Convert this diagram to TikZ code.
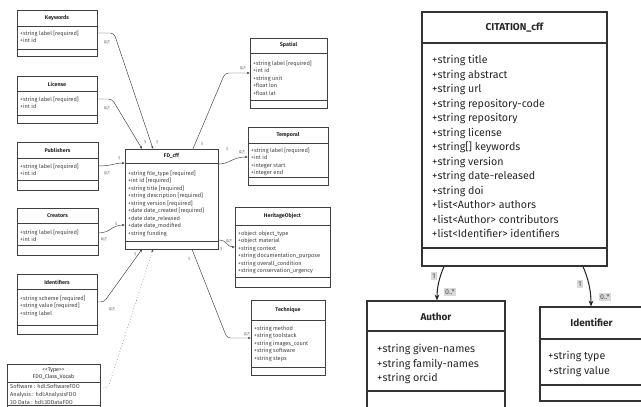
\documentclass[tikz,border=0pt]{standalone}
\usepackage{fontspec}
\setmainfont{Fira Sans}
\usetikzlibrary{positioning, arrows.meta, fit}

\begin{document}
\begin{tikzpicture}[x=0.03cm, y=-0.03cm,
        cls/.style={draw=black!75, line width=0.4pt, inner sep=0pt},
        bigcls/.style={draw=black!80, line width=0.9pt, inner sep=0pt},
        ttl/.style={font=\fontsize{4.6}{5.4}\selectfont\bfseries, text=black!85, inner sep=0pt, align=center},
        att/.style={font=\fontsize{4.8}{6.4}\selectfont, align=left, anchor=north west, inner sep=0pt, text=black!75},
        bigttl/.style={font=\fontsize{8.5}{10}\selectfont\bfseries, inner sep=0pt, text=black!85},
        bigatt/.style={font=\fontsize{9.1}{12.38}\selectfont, align=left, anchor=north west, inner sep=0pt, text=black!85},
        link/.style={draw=black!75, line width=0.4pt, -{Stealth[length=2.5pt, width=2pt]}, rounded corners=3pt},
        biglink/.style={draw=black!85, line width=0.9pt, -{Stealth[length=5pt, width=4pt]}},
        mult/.style={font=\fontsize{3.4}{4}\selectfont, text=black!60, inner sep=0.5pt, fill=black!7},
        bigmult/.style={font=\fontsize{6}{7}\selectfont, text=black!70, inner sep=1pt, fill=black!15}
    ]
        \useasboundingbox (0,0) rectangle (641,406);
        \clip (0,0) rectangle (641,406);

        % Left diagram: classes around FD_cff
        \node[cls, fit={(17,10) (97,56)}] (kw) {};
        \draw[black!75, line width=0.4pt] (kw.west |- 0,26) -- (kw.east |- 0,26) (kw.west |- 0,49) -- (kw.east |- 0,49);
        \node[ttl] (kwt) at (kw.north |- 0,18) {Keywords};
        \node[att] (kwa) at (20,30.5) {+string label [required]\\+int id};

        \node[cls, fit={(17,76) (97,123)}] (lic) {};
        \draw[black!75, line width=0.4pt] (lic.west |- 0,91) -- (lic.east |- 0,91) (lic.west |- 0,115) -- (lic.east |- 0,115);
        \node[ttl] (lict) at (lic.north |- 0,84) {License};
        \node[att] (lica) at (20,96.5) {+string label [required]\\+int id};

        \node[cls, fit={(17,142) (98,190)}] (pub) {};
        \draw[black!75, line width=0.4pt] (pub.west |- 0,158) -- (pub.east |- 0,158) (pub.west |- 0,180) -- (pub.east |- 0,180);
        \node[ttl] (pubt) at (pub.north |- 0,150) {Publishers};
        \node[att] (puba) at (20,163.5) {+string label [required]\\+int id};

        \node[cls, fit={(17,208) (98,255)}] (cre) {};
        \draw[black!75, line width=0.4pt] (cre.west |- 0,223) -- (cre.east |- 0,223) (cre.west |- 0,245) -- (cre.east |- 0,245);
        \node[ttl] (cret) at (cre.north |- 0,216) {Creators};
        \node[att] (crea) at (20,229.5) {+string label [required]\\+int id};

        \node[cls, fit={(17,274) (97,334)}] (idf) {};
        \draw[black!75, line width=0.4pt] (idf.west |- 0,289) -- (idf.east |- 0,289) (idf.west |- 0,325) -- (idf.east |- 0,325);
        \node[ttl] (idft) at (idf.north |- 0,282) {Identifiers};
        \node[att] (idfa) at (20,295.5) {+string scheme [required]\\+string value [required]\\+string label};

        \node[cls, fit={(7,364) (100,420)}] (fdo) {};
        \draw[black!75, line width=0.4pt] (fdo.west |- 0,382) -- (fdo.east |- 0,382) (fdo.west |- 0,405) -- (fdo.east |- 0,405);
        \node[ttl, font=\fontsize{4.6}{6.6}\selectfont] (fdot) at (fdo.north |- 0,373.5) {{<}{<}Type{>}{>}\\FDO\_Class\_Vocab};
        \node[att, font=\fontsize{4.8}{6.5}\selectfont] (fdoa) at (10,384.5) {Software : hdl:SoftwareFDO\\Analysis : hdl:AnalysisFDO\\3D Data : hdl:3DDataFDO};

        \node[cls, fit={(125,149) (218,249)}] (fd) {};
        \draw[black!75, line width=0.4pt] (fd.west |- 0,163) -- (fd.east |- 0,163) (fd.west |- 0,241) -- (fd.east |- 0,241);
        \node[ttl] (fdt) at (fd.north |- 0,156) {FD\_cff};
        \node[att] (fda) at (128,170.5) {+string file\_type [required]\\+int id [required]\\+string title [required]\\+string description [required]\\+string version [required]\\+date date\_created [required]\\+date date\_released\\+date date\_modified\\+string funding};

        \node[cls, fit={(250,38) (327,108)}] (sp) {};
        \draw[black!75, line width=0.4pt] (sp.west |- 0,53) -- (sp.east |- 0,53) (sp.west |- 0,100) -- (sp.east |- 0,100);
        \node[ttl] (spt) at (sp.north |- 0,45) {Spatial};
        \node[att] (spa) at (253,60.5) {+string label [required]\\+int id\\+string unit\\+float lon\\+float lat};

        \node[cls, fit={(248,127) (328,185)}] (tmp) {};
        \draw[black!75, line width=0.4pt] (tmp.west |- 0,143) -- (tmp.east |- 0,143) (tmp.west |- 0,177) -- (tmp.east |- 0,177);
        \node[ttl] (tmpt) at (tmp.north |- 0,135) {Temporal};
        \node[att] (tmpa) at (251,147.5) {+string label [required]\\+int id\\+integer start\\+integer end};

        \node[cls, fit={(235,207) (330,287)}] (ho) {};
        \draw[black!75, line width=0.4pt] (ho.west |- 0,225) -- (ho.east |- 0,225) (ho.west |- 0,277) -- (ho.east |- 0,277);
        \node[ttl] (hot) at (ho.north |- 0,216) {HeritageObject};
        \node[att] (hoa) at (238,230.5) {+object object\_type\\+object material\\+string context\\+string documentation\_purpose\\+string overall\_condition\\+string conservation\_urgency};

        \node[cls, fit={(251,300) (325,375)}] (tech) {};
        \draw[black!75, line width=0.4pt] (tech.west |- 0,320) -- (tech.east |- 0,320) (tech.west |- 0,367) -- (tech.east |- 0,367);
        \node[ttl] (techt) at (tech.north |- 0,310) {Technique};
        \node[att] (techa) at (254,325.5) {+string method\\+string toolstack\\+string images\_count\\+string software\\+string steps};

        % Left diagram: associations
        \draw[link] (kw.east |- 0,33) -- (114,33) -- (fd.north -| 153,0);
        \draw[link] (lic.east |- 0,99) -- (112,99) -- (fd.north -| 142,0);
        \draw[link] (pub.east |- 0,166) .. controls (112,166) and (114,163) .. (fd.west |- 0,163);
        \draw[link] (cre.east |- 0,233) .. controls (110,233) and (112,225) .. (fd.west |- 0,225);
        \draw[link] (idf.east |- 0,302) -- (104,302) -- (fd.south -| 142,0);
        \draw[link, dotted] (fdo.east |- 0,388) -- (108,388) -- (fd.south -| 153,0);
        \draw[link] (fd.north -| 193,0) -- (225,73) -- (sp.west |- 0,73);
        \draw[link] (fd.east |- 0,164) .. controls (230,164) and (232,157) .. (tmp.west |- 0,157);
        \draw[link] (fd.east |- 0,240) .. controls (228,240) and (226,247) .. (ho.west |- 0,247);
        \draw[link] (fd.south -| 192,0) -- (227,338) -- (tech.west |- 0,338);

        % Left diagram: multiplicities
        \node[mult] (m1a) at (107,42) {0..*};
        \node[mult] (m1b) at (157,142) {1};
        \node[mult] (m2a) at (107,108) {0..*};
        \node[mult] (m2b) at (145,142) {1};
        \node[mult] (m3a) at (107,173) {0..*};
        \node[mult] (m3b) at (119,158) {1};
        \node[mult] (m4a) at (104,239) {0..*};
        \node[mult] (m4b) at (116,224) {1};
        \node[mult] (m5a) at (112,309) {0..*};
        \node[mult] (m5b) at (135,254) {1};
        \node[mult] (m6a) at (243,68) {0..*};
        \node[mult] (m6b) at (202,144) {1};
        \node[mult] (m7a) at (242,152) {0..*};
        \node[mult] (m7b) at (227,149) {1};
        \node[mult] (m8a) at (229,241) {0..*};
        \node[mult] (m8b) at (221,249) {1};
        \node[mult] (m9a) at (247,334) {0..*};
        \node[mult] (m9b) at (189,259) {1};

        % Right diagram: CITATION_cff
        \node[bigcls, fit={(422,12) (607,266)}] (cit) {};
        \draw[black!80, line width=0.9pt] (cit.west |- 0,43) -- (cit.east |- 0,43) (cit.west |- 0,248) -- (cit.east |- 0,248);
        \node[bigttl] (citt) at (cit.north |- 0,28) {CITATION\_cff};
        \node[bigatt] (cita) at (432,55.2) {+string title\\+string abstract\\+string url\\+string repository-code\\+string repository\\+string license\\+string[] keywords\\+string version\\+string date-released\\+string doi\\+list<Author> authors\\+list<Author> contributors\\+list<Identifier> identifiers};

        \node[bigcls, fit={(367,301) (505,420)}] (auth) {};
        \draw[black!80, line width=0.9pt] (auth.west |- 0,331) -- (auth.east |- 0,331) (auth.west |- 0,391) -- (auth.east |- 0,391);
        \node[bigttl] (autht) at (auth.north |- 0,317) {Author};
        \node[bigatt] (autha) at (377,344.2) {+string given-names\\+string family-names\\+string orcid};

        \node[bigcls, fit={(540,307) (643,401)}] (ide) {};
        \draw[black!80, line width=0.9pt] (ide.west |- 0,339) -- (ide.east |- 0,339) (ide.west |- 0,385) -- (ide.east |- 0,385);
        \node[bigttl] (idet) at (ide.north |- 0,323) {Identifier};
        \node[bigatt] (idea) at (548,351.2) {+string type\\+string value};

        \draw[biglink] (cit.south -| 444,0) .. controls (439,278) and (437,288) .. (auth.north -| 437,0);
        \draw[biglink] (cit.south -| 583,0) .. controls (588,278) and (591,290) .. (ide.north -| 591,0);

        \node[bigmult] (r1a) at (434,276) {1};
        \node[bigmult] (r1b) at (450,292) {0..*};
        \node[bigmult] (r2a) at (580,284) {1};
        \node[bigmult] (r2b) at (605,297) {0..*};
    \end{tikzpicture}
\end{document}
